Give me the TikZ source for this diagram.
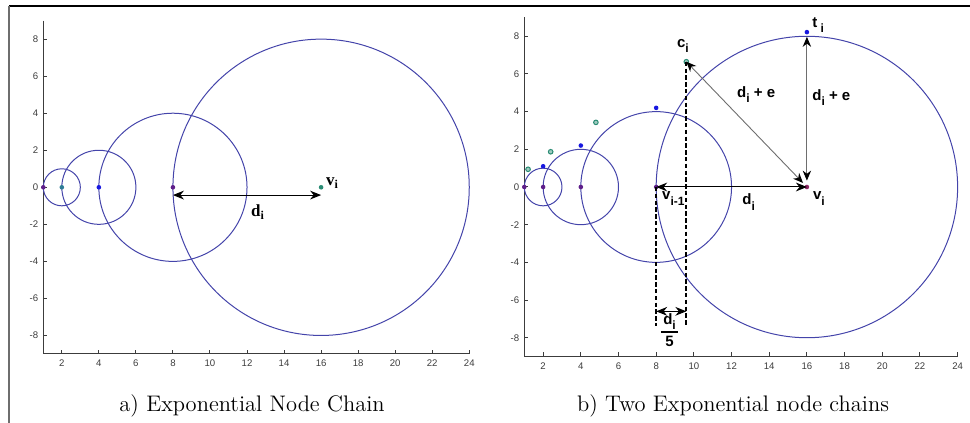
\documentclass[tikz,border=0pt]{standalone}
\usepackage{fontspec}
\newfontfamily\plotsans{Liberation Sans}
\newfontfamily\plotserif{Liberation Serif}
\usetikzlibrary{arrows.meta,positioning}
\definecolor{CircleBlue}{HTML}{4444AA}
\definecolor{AxisGray}{HTML}{3C3C3C}
\definecolor{LineGray}{HTML}{6E6E6E}
\definecolor{DotPurple}{HTML}{5E1E8A}
\definecolor{DotBlue}{HTML}{1818E0}
\definecolor{DotSteel}{HTML}{2E7C96}
\definecolor{DotTeal}{HTML}{2A8C74}
\definecolor{DotRed}{HTML}{8E2A66}
\newcommand{\subsans}[1]{\raisebox{-2.6pt}{\fontsize{6}{6}\selectfont #1}}
\newcommand{\subserif}[1]{\raisebox{-1.6pt}{\fontsize{6}{6}\selectfont #1}}

\begin{document}
\begin{tikzpicture}[
  x=1pt,y=1pt,
  ring/.style={draw=CircleBlue,line width=0.5pt},
  vdot/.style={circle,inner sep=0pt,minimum size=2.3pt,fill=#1},
  hdot/.style={circle,inner sep=0pt,minimum size=2.3pt,draw=#1,line width=0.5pt,fill=#1!45},
  axisline/.style={draw=AxisGray,line width=0.5pt},
  ticklab/.style={font=\plotsans\fontsize{4.8}{5.5}\selectfont,text=AxisGray,inner sep=0pt},
  lab/.style={font=\plotsans\bfseries\fontsize{7.5}{7.5}\selectfont,inner sep=0pt,anchor=base west},
  serlab/.style={font=\plotserif\bfseries\fontsize{8.5}{9}\selectfont,inner sep=0pt,anchor=base west},
  arr/.style={{Stealth[length=5.5pt,width=4.4pt,inset=1.8pt]}-{Stealth[length=5.5pt,width=4.4pt,inset=1.8pt]},line width=0.5pt,draw=black},
  grayarr/.style={{Stealth[length=5pt,width=4.2pt,inset=1.6pt,color=black]}-{Stealth[length=5pt,width=4.2pt,inset=1.6pt,color=black]},line width=0.45pt,draw=LineGray},
  dashline/.style={line width=0.9pt,dash pattern=on 2.2pt off 1.2pt},
  captext/.style={font=\fontsize{11.25}{13}\selectfont,inner sep=0pt}
]
\useasboundingbox (0,0) rectangle (485,211.5);
% frame
\draw[line width=1pt] (4.5,208.5) -- (485,208.5);
\draw[line width=0.8pt,draw=LineGray] (4.5,0) -- (4.5,208.5);

% a) exponential node chain
\begin{scope}[shift={(12.39,117.85)},x=9.26pt,y=9.26pt]
  \draw[axisline] (1,9) -- (1,-9) -- (24,-9);
  \foreach \x in {2,4,...,24} {
    \draw[axisline] (\x,-9) -- (\x,-8.78);
    \node[ticklab,anchor=north] (xa\x) at (\x,-9.3) {\x};
  }
  \foreach \y in {-8,-6,...,8} {
    \draw[axisline] (1,\y) -- (1.22,\y);
    \node[ticklab,anchor=east] (ya\y) at (0.75,\y) {\y};
  }
  \draw[ring] (2,0) circle[radius=1];
  \draw[ring] (4,0) circle[radius=2];
  \draw[ring] (8,0) circle[radius=4];
  \draw[ring] (16,0) circle[radius=8];
  \node[vdot=DotPurple] (a1) at (1,0) {};
  \node[vdot=DotSteel] (a2) at (2,0) {};
  \node[vdot=DotBlue] (a4) at (4,0) {};
  \node[vdot=DotPurple] (a8) at (8,0) {};
  \node[vdot=DotTeal] (a16) at (16,0) {};
  \coordinate (aL) at (8,-0.42);
  \coordinate (aR) at (16,-0.42);
  \draw[arr] (aL) -- (aR);
  \node[serlab] (lvi) at (16.25,0.12) {v\subserif{i}};
  \node[serlab] (ldi) at (12.2,-1.56) {d\subserif{i}};
\end{scope}
\node[captext] (capA) at (126,8.5) {a) Exponential Node Chain};

% b) two exponential node chains
\begin{scope}[shift={(252.73,118)},x=9.42pt,y=9.42pt]
  \draw[axisline] (1,9) -- (1,-9) -- (24,-9);
  \foreach \x in {2,4,...,24} {
    \draw[axisline] (\x,-9) -- (\x,-8.78);
    \node[ticklab,anchor=north] (xb\x) at (\x,-9.3) {\x};
  }
  \foreach \y in {-8,-6,...,8} {
    \draw[axisline] (1,\y) -- (1.22,\y);
    \node[ticklab,anchor=east] (yb\y) at (0.75,\y) {\y};
  }
  \draw[ring] (2,0) circle[radius=1];
  \draw[ring] (4,0) circle[radius=2];
  \draw[ring] (8,0) circle[radius=4];
  \draw[ring] (16,0) circle[radius=8];
  % chain nodes
  \node[vdot=DotPurple] (b1) at (1,0) {};
  \node[vdot=DotPurple] (b2) at (2,0) {};
  \node[vdot=DotPurple] (b4) at (4,0) {};
  \node[vdot=DotPurple] (vprev) at (8,0) {};
  \node[vdot=DotRed] (vi) at (16,0) {};
  % top points
  \node[vdot=DotBlue] (t2) at (2,1.1) {};
  \node[vdot=DotBlue] (t4) at (4,2.2) {};
  \node[vdot=DotBlue] (t8) at (8,4.2) {};
  \node[vdot=DotBlue] (ti) at (16,8.22) {};
  % side points
  \node[hdot=DotTeal] (c1) at (1.2,0.94) {};
  \node[hdot=DotTeal] (c2) at (2.4,1.87) {};
  \node[hdot=DotTeal] (c4) at (4.8,3.43) {};
  \node[hdot=DotTeal] (ci) at (9.6,6.65) {};
  % guides
  \coordinate (dashL) at (8,-7.4);
  \coordinate (dashR) at (9.6,-7.4);
  \coordinate (gapL) at (8,-6.6);
  \coordinate (gapR) at (9.6,-6.6);
  \coordinate (tiTip) at (16,7.97);
  \draw[dashline] (vprev.center) -- (dashL);
  \draw[dashline] (ci.center) -- (dashR);
  \draw[arr] (gapL) -- (gapR);
  \draw[arr] (vprev.center) -- (vi.center);
  \draw[grayarr,shorten <=2.8pt] (vi.center) -- (ci.center);
  \draw[grayarr,shorten <=3.2pt] (vi.center) -- (tiTip);
  % labels
  \node[lab] (lci) at (9.09,7.43) {c\subsans{i}};
  \node[lab] (lti) at (16.27,8.49) {t\hspace{1.6pt}\subsans{i}};
  \node[lab] (lde1) at (12.28,4.77) {d\subsans{i} + e};
  \node[lab] (lde2) at (16.27,4.6) {d\subsans{i} + e};
  \node[lab] (lvp) at (8.3,-0.69) {v\subsans{i-1}};
  \node[lab] (ldi2) at (12.56,-0.95) {d\subsans{i}};
  \node[lab] (lvi2) at (16.31,-0.69) {v\subsans{i}};
  \node[lab,anchor=center] (lfrac) at (8.71,-7.72) {\setlength\arrayrulewidth{0.7pt}\begin{tabular}{@{}c@{}}\makebox[8.6pt][c]{d\subsans{i}}\\[1pt]\hline\rule{0pt}{7pt}5\end{tabular}};
\end{scope}
\node[captext] (capB) at (366.5,8.5) {b) Two Exponential node chains};
\end{tikzpicture}
\end{document}
